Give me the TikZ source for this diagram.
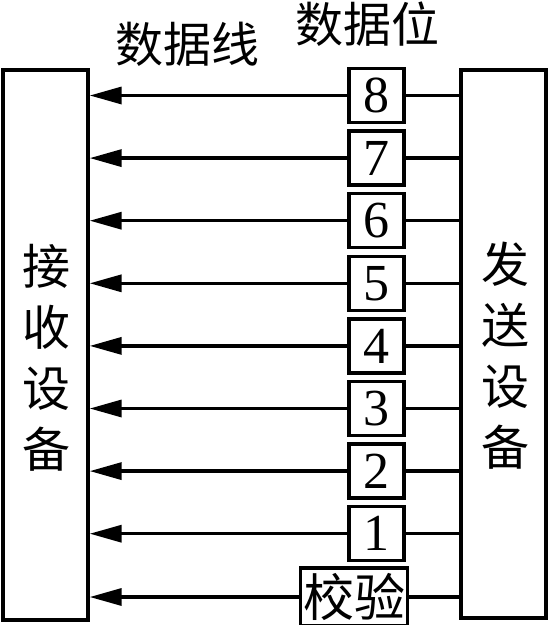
\documentclass[tikz,border=0pt]{standalone}
\usepackage{fontspec}
\setmainfont{Liberation Serif}
\newfontfamily\cjk{Noto Sans CJK SC}
\usetikzlibrary{arrows.meta}
\begin{document}
\begin{tikzpicture}[x=1pt,y=-1pt,
  lw/.style={line width=3.4pt},
  devbox/.style={lw,draw,minimum width=85pt,inner sep=0pt},
  bitbox/.style={lw,draw,minimum width=55pt,minimum height=54pt,inner sep=0pt,font=\fontsize{52}{52}\selectfont},
  chk/.style={lw,draw,minimum width=107pt,minimum height=58pt,inner sep=0pt,font=\cjk\fontsize{51}{51}\selectfont},
  vtext/.style={align=center,font=\cjk\fontsize{48}{61}\selectfont,inner sep=0pt},
  toplabel/.style={font=\cjk\fontsize{48}{48}\selectfont,inner sep=0pt},
  wire/.style={lw},
  arr/.style={lw,-{Triangle[length=32pt,width=17pt]}}]
\useasboundingbox (0,0) rectangle (550,625);
\node[devbox,minimum height=550pt] (L) at (45.5,345) {};
\node[devbox,minimum height=548pt] (R) at (503.5,344) {};
\node[vtext] (Lt) at (46,358) {接\\收\\设\\备};
\node[vtext] (Rt) at (505,356) {发\\送\\设\\备};
\node[toplabel] (t1) at (187,44) {数据线};
\node[toplabel] (t2) at (367,24) {数据位};
\foreach \n [count=\i from 0] in {8,7,6,5,4,3,2,1}{
  \node[bitbox] (b\n) at (376.5,{95.5+62.6*\i}) {\n};
  \draw[wire] (R.west |- b\n) -- (b\n.east);
  \draw[arr] (b\n.west) -- (L.east |- b\n);
}
\node[chk] (bc) at (354,597) {校验};
\draw[wire] (R.west |- bc) -- (bc.east);
\draw[arr] (bc.west) -- (L.east |- bc);
\end{tikzpicture}
\end{document}
